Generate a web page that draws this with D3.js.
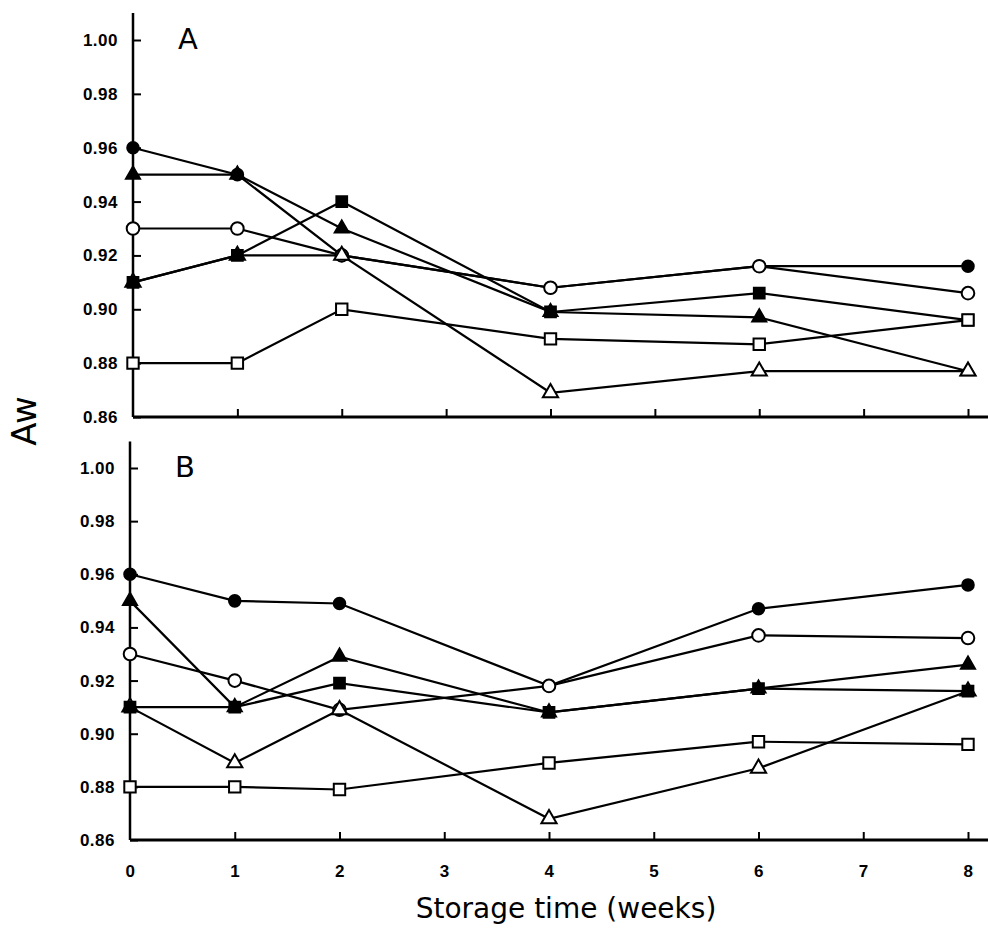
<!DOCTYPE html>
<html>
<head>
<meta charset="utf-8">
<script src="https://cdnjs.cloudflare.com/ajax/libs/d3/7.8.5/d3.min.js"></script>
<style>
  body { margin: 0; background: #fff; }
  svg { display: block; }
  .tick text { font-family: "Liberation Sans", Arial, sans-serif; font-weight: bold; font-size: 17px; fill: #000; letter-spacing: 0.5px; }
  .tick line { stroke: #000; stroke-width: 2; }
</style>
</head>
<body>
<svg id="chart" width="988" height="930"></svg>
<script>
var width = 988, height = 930;

// storage time (weeks) of each sample
var weeks = [0, 1, 2, 4, 6, 8];
var xTicks = [0, 1, 2, 3, 4, 5, 6, 7, 8];
var yTicks = [0.86, 0.88, 0.90, 0.92, 0.94, 0.96, 0.98, 1.00];

// panel A values (Aw)
var aFilledCircle   = [0.960, 0.950, 0.920, 0.908, 0.916, 0.916];
var aOpenCircle     = [0.930, 0.930, 0.920, 0.908, 0.916, 0.906];
var aFilledTriangle = [0.950, 0.950, 0.930, 0.899, 0.897, 0.877];
var aOpenTriangle   = [0.910, 0.920, 0.920, 0.869, 0.877, 0.877];
var aFilledSquare   = [0.910, 0.920, 0.940, 0.899, 0.906, 0.896];
var aOpenSquare     = [0.880, 0.880, 0.900, 0.889, 0.887, 0.896];

// panel B values (Aw)
var bFilledCircle   = [0.960, 0.950, 0.949, 0.918, 0.947, 0.956];
var bOpenCircle     = [0.930, 0.920, 0.909, 0.918, 0.937, 0.936];
var bFilledTriangle = [0.950, 0.910, 0.929, 0.908, 0.917, 0.926];
var bOpenTriangle   = [0.910, 0.889, 0.909, 0.868, 0.887, 0.916];
var bFilledSquare   = [0.910, 0.910, 0.919, 0.908, 0.917, 0.916];
var bOpenSquare     = [0.880, 0.880, 0.879, 0.889, 0.897, 0.896];

var markers = [
    {key: "filledCircle",   shape: d3.symbolCircle,   filled: true,  size: 105},
    {key: "openCircle",     shape: d3.symbolCircle,   filled: false, size: 125},
    {key: "filledTriangle", shape: d3.symbolTriangle, filled: true,  size: 85},
    {key: "openTriangle",   shape: d3.symbolTriangle, filled: false, size: 100},
    {key: "filledSquare",   shape: d3.symbolSquare,   filled: true,  size: 115},
    {key: "openSquare",     shape: d3.symbolSquare,   filled: false, size: 130}
];

var panels = [
    {label: "A", axisX: 133, top: 40, bottom: 417, showX: false,
     series: [aFilledCircle, aOpenCircle, aFilledTriangle, aOpenTriangle, aFilledSquare, aOpenSquare]},
    {label: "B", axisX: 130, top: 468, bottom: 840, showX: true,
     series: [bFilledCircle, bOpenCircle, bFilledTriangle, bOpenTriangle, bFilledSquare, bOpenSquare]}
];

var svg = d3.select("#chart");

panels.forEach(function (p) {
    var x = d3.scaleLinear().domain([0, 8]).range([p.axisX, 968]);
    var y = d3.scaleLinear().domain([0.86, 1.00]).range([p.bottom, p.top]);

    var g = svg.append("g");

    // y axis (ticks point inward)
    var yAxis = g.append("g")
        .attr("transform", "translate(" + p.axisX + ",0)")
        .call(d3.axisLeft(y).tickValues(yTicks).tickFormat(d3.format(".2f"))
            .tickSizeInner(-8).tickSizeOuter(0).tickPadding(15));
    yAxis.select(".domain").remove();

    g.append("line")
        .attr("x1", p.axisX).attr("x2", p.axisX)
        .attr("y1", y(1.01)).attr("y2", p.bottom)
        .attr("stroke", "#000").attr("stroke-width", 2.5);

    // x axis
    var xAxis = g.append("g")
        .attr("transform", "translate(0," + p.bottom + ")")
        .call(d3.axisBottom(x).tickValues(xTicks).tickFormat(d3.format("d"))
            .tickSizeInner(-8).tickSizeOuter(0).tickPadding(25));
    xAxis.select(".domain").remove();
    xAxis.selectAll(".tick").filter(function (d) { return d === 0; }).select("line").remove();
    if (!p.showX) xAxis.selectAll(".tick text").remove();

    g.append("line")
        .attr("x1", p.axisX).attr("x2", width)
        .attr("y1", p.bottom).attr("y2", p.bottom)
        .attr("stroke", "#000").attr("stroke-width", 3);

    g.append("text")
        .attr("x", p.axisX + 45).attr("y", p.top + 9)
        .attr("font-family", "'DejaVu Sans', sans-serif")
        .attr("font-size", 29)
        .text(p.label);

    var line = d3.line()
        .x(function (d, i) { return x(weeks[i]); })
        .y(function (d) { return y(d); });

    p.series.forEach(function (s) {
        g.append("path")
            .datum(s)
            .attr("fill", "none")
            .attr("stroke", "#000")
            .attr("stroke-width", 2.2)
            .attr("d", line);
    });

    p.series.forEach(function (s, k) {
        var m = markers[k];
        g.selectAll(".m-" + m.key)
            .data(s)
            .enter().append("path")
            .attr("class", "m-" + m.key)
            .attr("transform", function (d, i) { return "translate(" + x(weeks[i]) + "," + y(d) + ")"; })
            .attr("d", d3.symbol().type(m.shape).size(m.size))
            .attr("fill", m.filled ? "#000" : "#fff")
            .attr("stroke", "#000")
            .attr("stroke-width", 2);
    });
});

// axis titles
svg.append("text")
    .attr("transform", "translate(36,421) rotate(-90)")
    .attr("text-anchor", "middle")
    .attr("font-family", "'DejaVu Sans', sans-serif")
    .attr("font-size", 34)
    .text("Aw");

svg.append("text")
    .attr("x", 566).attr("y", 918)
    .attr("text-anchor", "middle")
    .attr("font-family", "'DejaVu Sans', sans-serif")
    .attr("font-size", 28)
    .text("Storage time (weeks)");
</script>
</body>
</html>
